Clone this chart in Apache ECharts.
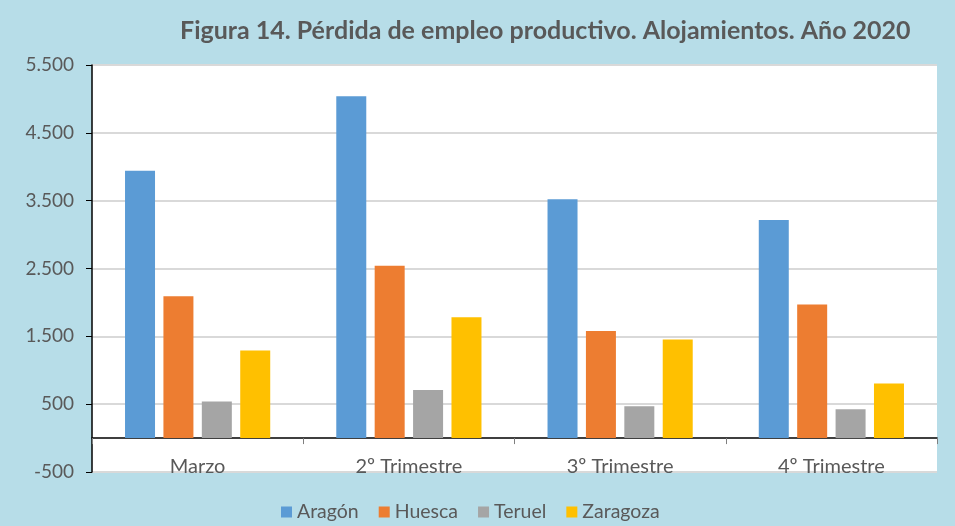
<!DOCTYPE html>
<html>
<head>
<meta charset="utf-8">
<script src="https://cdn.jsdelivr.net/npm/echarts@6/dist/echarts.min.js"></script>
<style>
  html, body { margin: 0; padding: 0; background: #b7dde8; }
  #chart { width: 955px; height: 526px; }
</style>
</head>
<body>
<div id="chart"></div>
<script>
var categories = ['Marzo', '2º Trimestre', '3º Trimestre', '4º Trimestre'];
var aragon = [3940, 5040, 3520, 3215];
var huesca = [2090, 2540, 1580, 1970];
var teruel = [540, 710, 470, 425];
var zaragoza = [1290, 1780, 1455, 805];
var yTicks = [-500, 500, 1500, 2500, 3500, 4500, 5500];

var dom = document.getElementById('chart');
var myChart = echarts.init(dom);

function miles(v) {
    var s = String(Math.abs(v));
    s = s.replace(/\B(?=(\d{3})+(?!\d))/g, '.');
    return (v < 0 ? '-' : '') + s;
}

function barSerie(name, data, color) {
    return {
        name: name,
        type: 'bar',
        data: data,
        barWidth: 30,
        barGap: '28%',
        itemStyle: { color: color }
    };
}

var option = {
    backgroundColor: '#b7dde8',
    textStyle: { fontFamily: 'Lato' },
    title: {
        text: 'Figura 14. Pérdida de empleo productivo. Alojamientos. Año 2020',
        left: 175,
        top: 13,
        textStyle: {
            color: '#595959',
            fontSize: 25,
            fontWeight: 'bold',
            fontFamily: 'Lato'
        }
    },
    legend: {
        left: 276,
        top: 497,
        itemWidth: 11,
        itemHeight: 11,
        itemGap: 20,
        icon: 'rect',
        textStyle: { color: '#595959', fontSize: 19.5, fontFamily: 'Lato' },
        data: ['Aragón', 'Huesca', 'Teruel', 'Zaragoza']
    },
    grid: {
        left: 92,
        right: 18,
        top: 65,
        bottom: 54,
        show: true,
        backgroundColor: '#ffffff',
        borderWidth: 0
    },
    xAxis: {
        type: 'category',
        data: categories,
        axisLine: { onZero: true, lineStyle: { color: '#000', width: 1.5 } },
        axisTick: { show: true, length: 6, lineStyle: { color: '#7f7f7f' } },
        axisLabel: { color: '#595959', fontSize: 20, margin: -15 }
    },
    yAxis: {
        type: 'value',
        min: -500,
        max: 5500,
        axisLine: { show: true, lineStyle: { color: '#000', width: 1.5 } },
        axisTick: { show: true, length: 6, customValues: yTicks, lineStyle: { color: '#000' } },
        axisLabel: {
            color: '#595959',
            fontSize: 19,
            margin: 18,
            customValues: yTicks,
            formatter: miles
        },
        splitLine: { show: true, lineStyle: { color: '#d9d9d9', width: 2 } }
    },
    series: [
        barSerie('Aragón', aragon, '#5b9bd5'),
        barSerie('Huesca', huesca, '#ed7d31'),
        barSerie('Teruel', teruel, '#a5a5a5'),
        barSerie('Zaragoza', zaragoza, '#ffc000')
    ]
};

myChart.setOption(option, true);
</script>
</body>
</html>
